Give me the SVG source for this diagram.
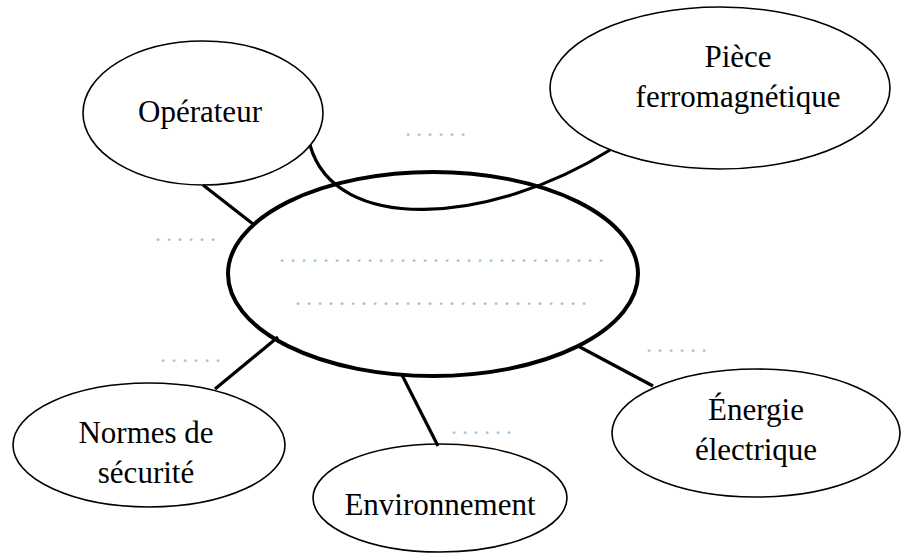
<svg xmlns="http://www.w3.org/2000/svg" width="908" height="555" viewBox="0 0 908 555">
<style>
.node{fill:#fff;stroke:#000;stroke-width:1.6}
.center{fill:#fff;stroke:#000;stroke-width:4}
.lbl{font-family:"Liberation Serif","Times New Roman",serif;font-size:31px;fill:#000;text-anchor:middle}
.dots{font-family:"Liberation Serif","Times New Roman",serif;font-size:24px;fill:#9DC3E6;letter-spacing:5px}
.conn{fill:none;stroke:#000;stroke-width:3.2}
</style>
<rect width="908" height="555" fill="#fff"/>
<g id="node-centre">
<ellipse class="center" cx="433" cy="274" rx="205" ry="102"/>
<text class="dots" x="279" y="262">..............................</text>
<text class="dots" x="295" y="305">...........................</text>
</g>
<g id="node-operateur">
<ellipse class="node" cx="203" cy="113" rx="120" ry="72"/>
<text class="lbl" x="200" y="122">Opérateur</text>
</g>
<g id="node-piece">
<ellipse class="node" cx="720" cy="88" rx="170" ry="81"/>
<text class="lbl" x="738" y="67">Pièce</text>
<text class="lbl" x="738" y="107">ferromagnétique</text>
</g>
<g id="node-normes">
<ellipse class="node" cx="149" cy="445" rx="136" ry="62"/>
<text class="lbl" x="146" y="443">Normes de</text>
<text class="lbl" x="146" y="483">sécurité</text>
</g>
<g id="node-environnement">
<ellipse class="node" cx="440" cy="498" rx="127" ry="54"/>
<text class="lbl" x="440" y="515">Environnement</text>
</g>
<g id="node-energie">
<ellipse class="node" cx="756" cy="433" rx="144" ry="64"/>
<text class="lbl" x="756" y="420">Énergie</text>
<text class="lbl" x="756" y="460">électrique</text>
</g>
<g id="connectors">
<path class="conn" d="M310,145 C335,235 490,225 610,150"/>
<line class="conn" x1="203" y1="185" x2="253" y2="224"/>
<line class="conn" x1="278" y1="337" x2="215" y2="389"/>
<line class="conn" x1="402" y1="375" x2="438" y2="446"/>
<line class="conn" x1="578" y1="346" x2="653" y2="386"/>
</g>
<g id="placeholders">
<text class="dots" x="405" y="136">......</text>
<text class="dots" x="155" y="241">......</text>
<text class="dots" x="160" y="362">......</text>
<text class="dots" x="451" y="434">......</text>
<text class="dots" x="646" y="352">......</text>
</g>
</svg>
